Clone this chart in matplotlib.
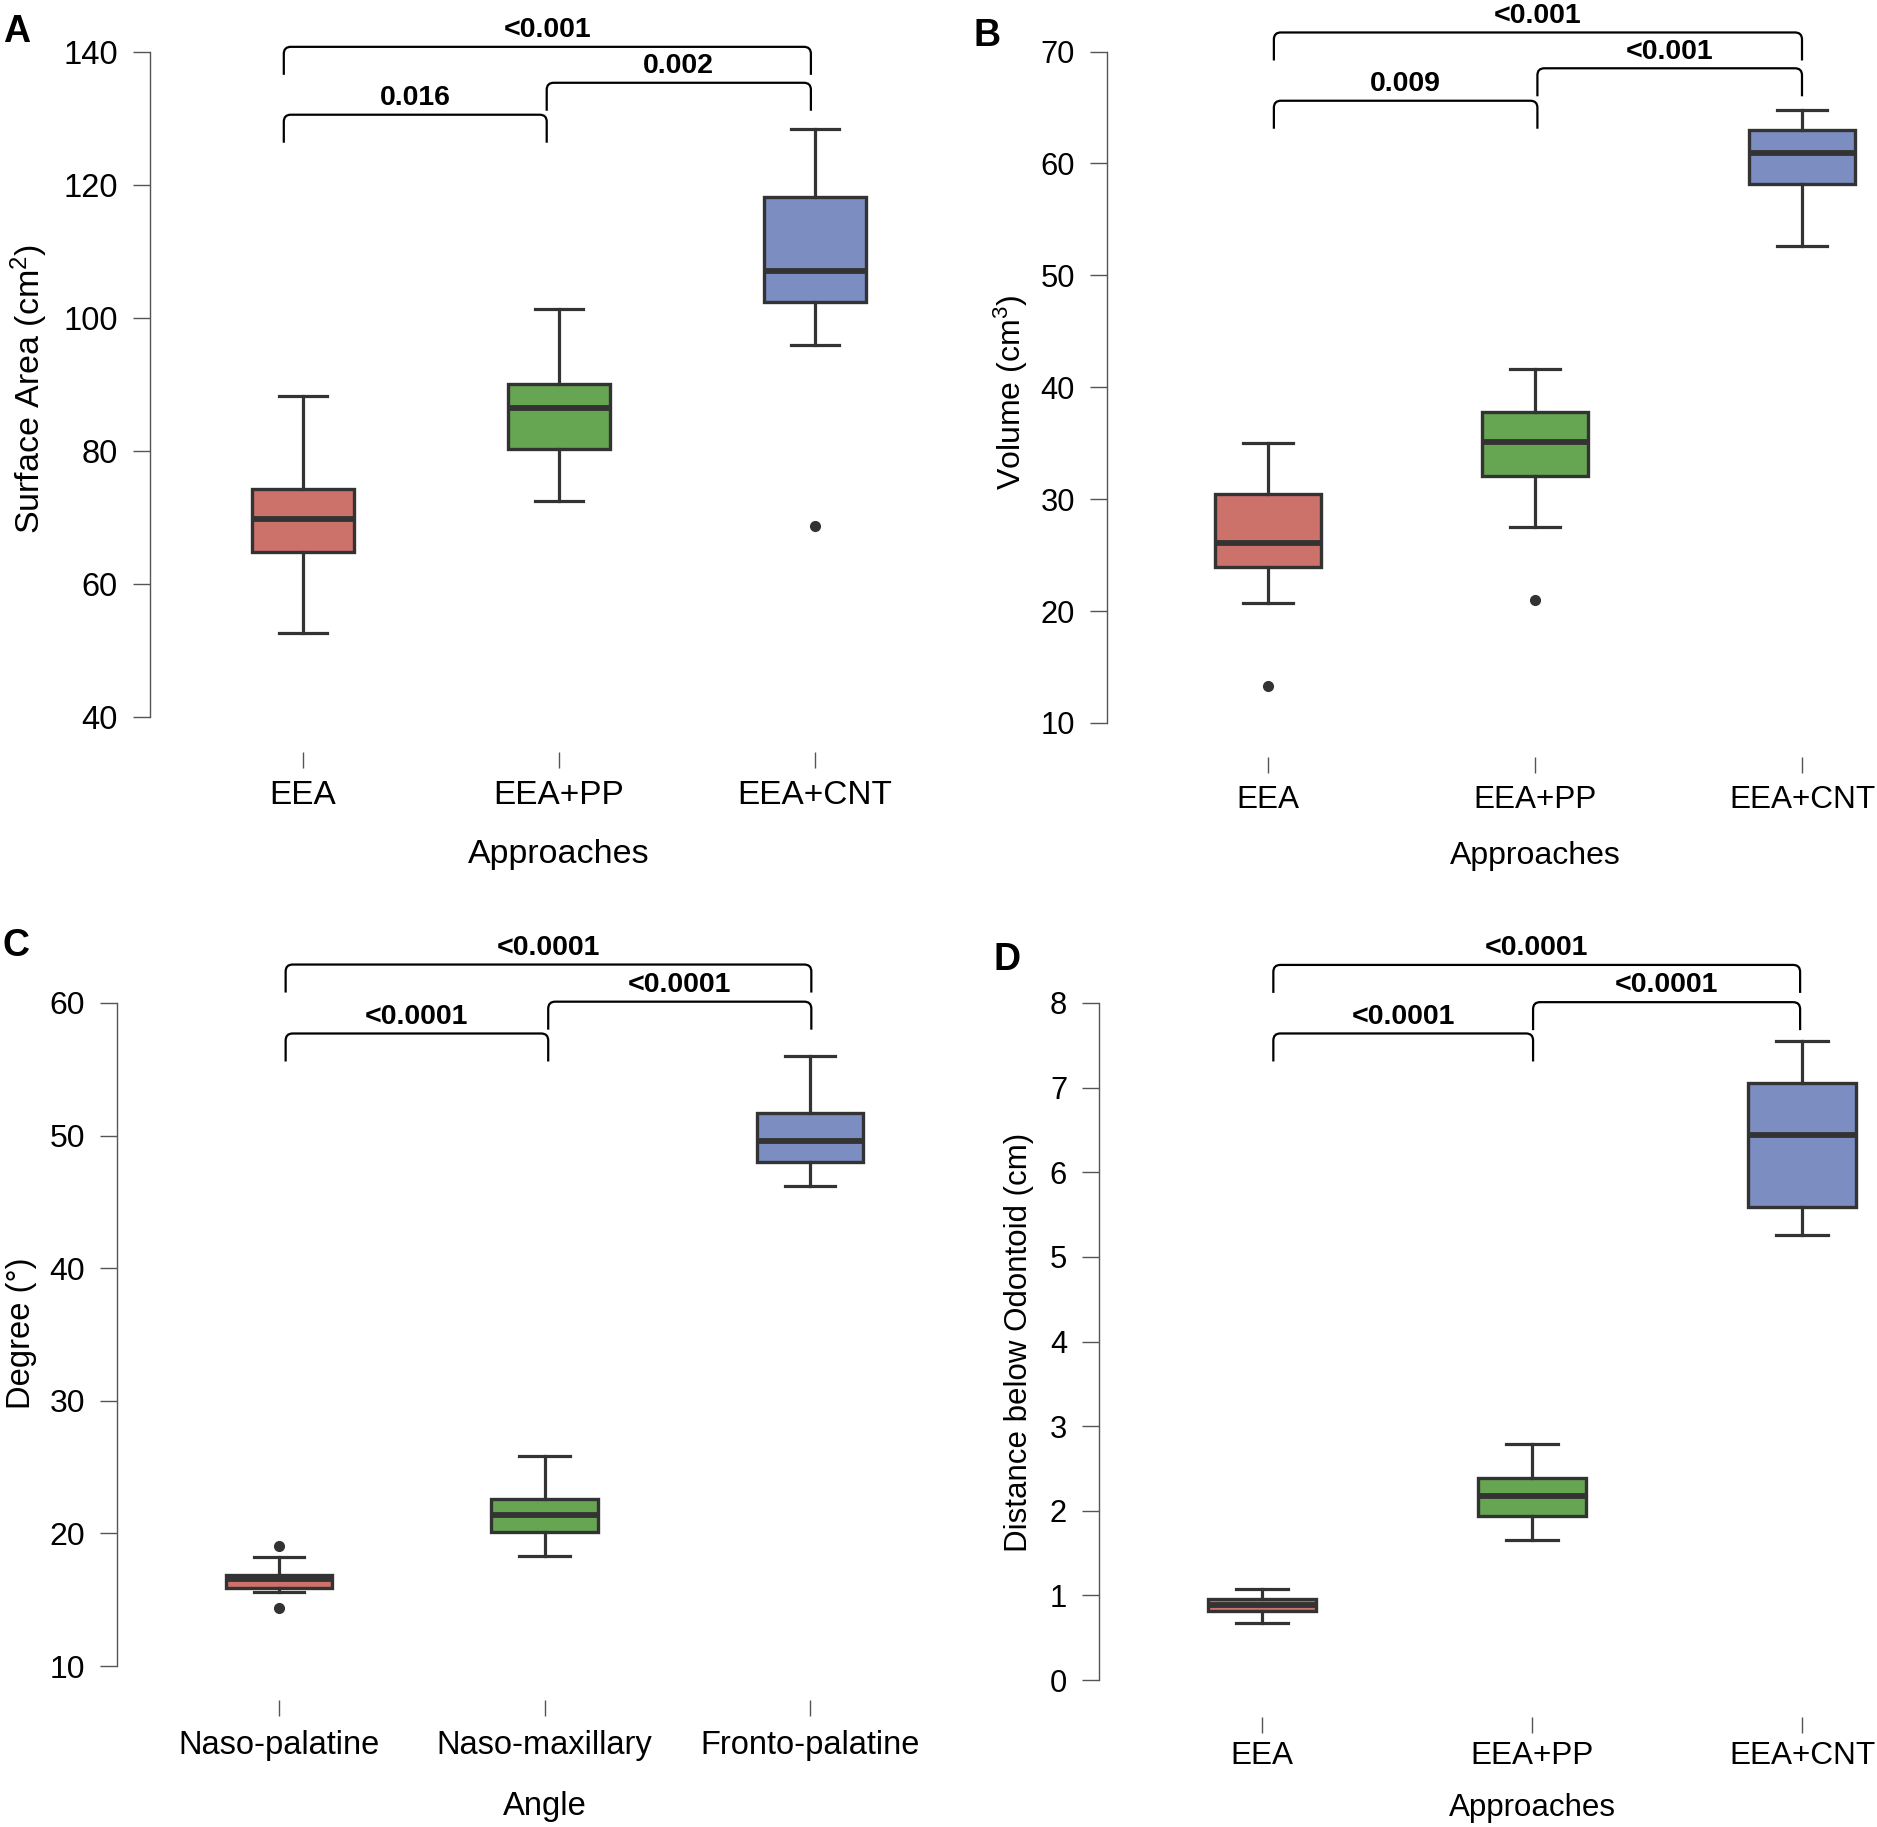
import matplotlib
matplotlib.use('Agg')
import matplotlib.pyplot as plt
from matplotlib.path import Path
from matplotlib.patches import PathPatch

plt.rcParams['font.family'] = ['Liberation Sans', 'DejaVu Sans']
plt.rcParams['mathtext.fontset'] = 'custom'
plt.rcParams['mathtext.rm'] = 'Liberation Sans'
plt.rcParams['mathtext.it'] = 'Liberation Sans:italic'
plt.rcParams['mathtext.bf'] = 'Liberation Sans:bold'

# ---- data ----
approaches = ['EEA', 'EEA+PP', 'EEA+CNT']
angles = ['Naso-palatine', 'Naso-maxillary', 'Fronto-palatine']

area_low = [52.6, 72.5, 95.9]
area_q1 = [64.8, 80.3, 102.3]
area_med = [69.7, 86.4, 107.0]
area_q3 = [74.3, 90.0, 118.1]
area_high = [88.3, 101.3, 128.4]
area_out = [[], [], [68.7]]
area_p = ['0.016', '0.002', '<0.001']

vol_low = [20.7, 27.5, 52.6]
vol_q1 = [23.95, 32.05, 58.15]
vol_med = [26.1, 35.1, 60.9]
vol_q3 = [30.5, 37.8, 63.0]
vol_high = [35.0, 41.6, 64.8]
vol_out = [[13.3], [21.0], []]
vol_p = ['0.009', '<0.001', '<0.001']

deg_low = [15.55, 18.3, 46.2]
deg_q1 = [15.9, 20.1, 48.0]
deg_med = [16.55, 21.4, 49.6]
deg_q3 = [16.9, 22.6, 51.7]
deg_high = [18.2, 25.8, 56.0]
deg_out = [[19.05, 14.35], [], []]
deg_p = ['<0.0001', '<0.0001', '<0.0001']

dist_low = [0.67, 1.66, 5.26]
dist_q1 = [0.82, 1.94, 5.59]
dist_med = [0.89, 2.17, 6.44]
dist_q3 = [0.96, 2.39, 7.05]
dist_high = [1.07, 2.79, 7.55]
dist_out = [[], [], []]
dist_p = ['<0.0001', '<0.0001', '<0.0001']

colors = ['#CD716B', '#66A652', '#7B8DC1']
dark = '#333333'
axcol = '#555555'

W, H = 1877, 1827
fig = plt.figure(figsize=(W / 100, H / 100), dpi=100)


def make_axes(left, right, top, bottom, c0, c2, v_lo, p_lo, v_hi, p_hi):
    ax = fig.add_axes([left / W, 1 - bottom / H, (right - left) / W, (bottom - top) / H])
    sp = (c2 - c0) / 2
    ax.set_xlim(-(c0 - left) / sp, 2 + (right - c2) / sp)
    ppu = (p_lo - p_hi) / (v_hi - v_lo)
    ax.set_ylim(v_lo - (bottom - p_lo) / ppu, v_hi + (p_hi - top) / ppu)
    return ax, sp, ppu


def bracket(ax, xa, xb, ytop, label, sp, ppu):
    leg = 28 / ppu
    rx, ry = 7 / sp, 7 / ppu
    verts = [(xa, ytop - leg), (xa, ytop - ry), (xa, ytop), (xa + rx, ytop),
             (xb - rx, ytop), (xb, ytop), (xb, ytop - ry), (xb, ytop - leg)]
    codes = [Path.MOVETO, Path.LINETO, Path.CURVE3, Path.CURVE3,
             Path.LINETO, Path.CURVE3, Path.CURVE3, Path.LINETO]
    ax.add_patch(PathPatch(Path(verts, codes), fill=False, lw=1.6,
                           edgecolor='black', clip_on=False))
    ax.annotate(label, ((xa + xb) / 2, ytop), xytext=(0, 7), textcoords='offset points',
                ha='center', va='baseline', fontsize=20.5, fontweight='bold',
                annotation_clip=False)


def panel(ax, sp, ppu, lo, q1, med, q3, hi, out, pvals, cats, yticks, ylabel, xlabel,
          ends, levels, fs, lab_fs, ylab_px, xlab_px, xpad, geom):
    left, right, top, bottom = geom
    stats = [dict(whislo=lo[i], q1=q1[i], med=med[i], q3=q3[i], whishi=hi[i], fliers=out[i])
             for i in range(3)]
    bp = ax.bxp(stats, positions=range(3), widths=0.4, capwidths=0.19, patch_artist=True,
                manage_ticks=False,
                boxprops=dict(edgecolor=dark, linewidth=2.4),
                medianprops=dict(color=dark, linewidth=4.2, solid_capstyle='butt'),
                whiskerprops=dict(color=dark, linewidth=2.3),
                capprops=dict(color=dark, linewidth=2.3),
                flierprops=dict(marker='o', markerfacecolor=dark, markeredgecolor=dark,
                                markersize=7))
    for patch, c in zip(bp['boxes'], colors):
        patch.set_facecolor(c)

    for s in ['top', 'right', 'bottom']:
        ax.spines[s].set_visible(False)
    ax.spines['left'].set_color(axcol)
    ax.spines['left'].set_linewidth(1.0)
    ax.spines['left'].set_bounds(yticks[0], yticks[-1])
    ax.set_yticks(yticks)
    ax.set_xticks(range(3), cats)
    ax.tick_params(axis='y', length=12, width=1.0, color=axcol, pad=11, labelsize=23.5 * fs)
    ax.tick_params(axis='x', length=11.5, width=1.0, color=axcol, pad=xpad, labelsize=24 * fs)

    ax.set_ylabel(ylabel, fontsize=lab_fs)
    ax.set_xlabel(xlabel, fontsize=lab_fs)
    ax.yaxis.label.set_va('center')
    ax.xaxis.label.set_va('center')
    ax.yaxis.set_label_coords((ylab_px[0] - left) / (right - left),
                              (bottom - ylab_px[1]) / (bottom - top))
    x0, x1 = ax.get_xlim()
    ax.xaxis.set_label_coords((1 - x0) / (x1 - x0), (bottom - xlab_px) / (bottom - top))

    xl, xm, xr = ends
    bracket(ax, xl, xm, levels[0], pvals[0], sp, ppu)
    bracket(ax, xm, xr, levels[1], pvals[1], sp, ppu)
    bracket(ax, xl, xr, levels[2], pvals[2], sp, ppu)


# A
gA = (149.6, 935, 0, 752)
axA, spA, ppuA = make_axes(*gA, 303, 815, 40, 717, 140, 51.5)
panel(axA, spA, ppuA, area_low, area_q1, area_med, area_q3, area_high, area_out, area_p,
      approaches, list(range(40, 141, 20)), 'Surface Area (cm$^{2}$)', 'Approaches',
      (-0.075, 0.952, 1.984), (130.5, 135.3, 140.7), 1.0, 24.5, (29, 389), 854, 8.5, gA)

# B
gB = (1107, 1877, 0, 757)
axB, spB, ppuB = make_axes(*gB, 1268, 1802, 10, 723, 70, 51.5)
panel(axB, spB, ppuB, vol_low, vol_q1, vol_med, vol_q3, vol_high, vol_out, vol_p,
      approaches, list(range(10, 71, 10)), 'Volume (cm$^{3}$)', 'Approaches',
      (0.022, 1.009, 2.0), (65.6, 68.5, 71.7), 0.945, 23, (1011, 392), 856, 8.5, gB)

# C
gC = (117, 935, 905, 1700)
axC, spC, ppuC = make_axes(*gC, 279, 810, 10, 1666, 60, 1003)
panel(axC, spC, ppuC, deg_low, deg_q1, deg_med, deg_q3, deg_high, deg_out, deg_p,
      angles, list(range(10, 61, 10)), 'Degree (°)', 'Angle',
      (0.025, 1.014, 2.005), (57.7, 60.1, 62.9), 0.98, 23.6, (22, 1333), 1806, 10, gC)

# D
gD = (1099, 1877, 905, 1717)
axD, spD, ppuD = make_axes(*gD, 1262, 1802, 0, 1680, 8, 1003)
panel(axD, spD, ppuD, dist_low, dist_q1, dist_med, dist_q3, dist_high, dist_out, dist_p,
      approaches, list(range(0, 9)), 'Distance below Odontoid (cm)', 'Approaches',
      (0.042, 1.004, 1.993), (7.64, 8.01, 8.45), 0.945, 22.5, (1019, 1342), 1808, 5.5, gD)

# panel letters
for letter, (px, py) in zip('ABCD', [(3, 32), (973, 36), (3, 946), (994, 960)]):
    fig.text(px / W, 1 - py / H, letter, fontsize=27, fontweight='bold',
             ha='left', va='center')

fig.savefig('out.png', dpi=100)
